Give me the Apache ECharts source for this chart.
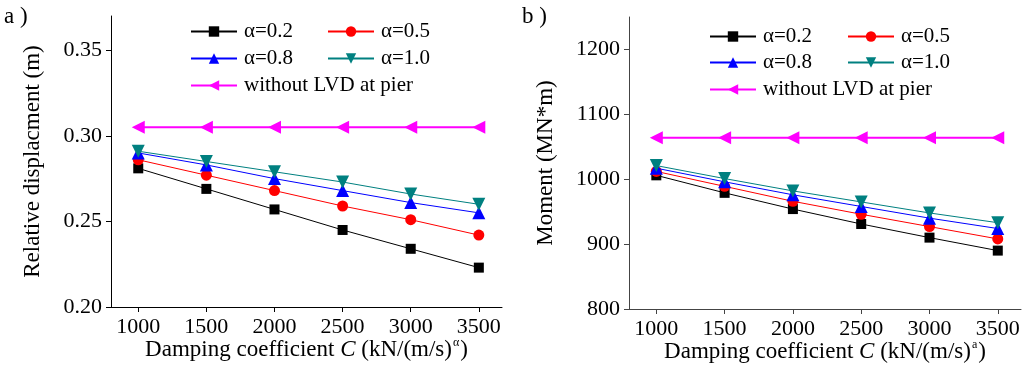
<!DOCTYPE html>
<html>
<head>
<meta charset="utf-8">
<script src="https://cdn.jsdelivr.net/npm/echarts@6/dist/echarts.min.js"></script>
<style>
html,body{margin:0;padding:0;background:#fff;}
#c{width:1029px;height:378px;}
</style>
</head>
<body>
<div id="c"></div>
<script>
// ---- data ----
const dampingC = [1000, 1500, 2000, 2500, 3000, 3500];
const seriesNames = ['α=0.2', 'α=0.5', 'α=0.8', 'α=1.0', 'without LVD at pier'];

// panel a) relative displacement (m)
const dispA02 = [0.281, 0.269, 0.257, 0.245, 0.234, 0.223];
const dispA05 = [0.286, 0.277, 0.268, 0.259, 0.251, 0.242];
const dispA08 = [0.290, 0.283, 0.275, 0.268, 0.261, 0.255];
const dispA10 = [0.291, 0.285, 0.279, 0.273, 0.266, 0.260];
const dispNoLVD = [0.305, 0.305, 0.305, 0.305, 0.305, 0.305];

// panel b) moment (MN*m)
const momA02 = [1006, 979, 954, 931, 910, 890];
const momA05 = [1012, 989, 966, 946, 927, 908];
const momA08 = [1017, 996, 976, 958, 940, 924];
const momA10 = [1021, 1001, 982, 965, 948, 933];
const momNoLVD = [1064, 1064, 1064, 1064, 1064, 1064];

const xTicks = [1000, 1500, 2000, 2500, 3000, 3500];
const yTicksA = [0.20, 0.25, 0.30, 0.35];
const yTicksB = [800, 900, 1000, 1100, 1200];

// ---- styles ----
const FONT = 'Liberation Serif';
const LBL = 22, TTL = 23, LEG = 21;
const colors = ['#000000', '#ff0000', '#0000ff', '#008080', '#ff00ff'];
const symbols = ['rect', 'circle', 'triangle', 'triangle', 'triangle'];
const symRot = [0, 0, 0, 180, 90];
const symSize = [10, 11, 13, 13, 13];
const lineW = [1, 1, 1, 1, 2];

function pairs(xs, ys) { return xs.map((x, i) => [x, ys[i]]); }

function makeSeries(dataArrs, gi) {
  return dataArrs.map((arr, k) => ({
    name: seriesNames[k],
    type: 'line',
    xAxisIndex: gi, yAxisIndex: gi,
    data: pairs(dampingC, arr),
    symbol: symbols[k],
    symbolSize: symSize[k],
    symbolRotate: symRot[k],
    itemStyle: { color: colors[k] },
    lineStyle: { color: colors[k], width: lineW[k] },
    z: 2 + k,
    animation: false
  }));
}

function makeLegends(x1, x2, rowY) {
  const pos = [[x1, rowY[0]], [x2, rowY[0]], [x1, rowY[1]], [x2, rowY[1]], [x1, rowY[2]]];
  return seriesNames.map((n, k) => ({
    data: [n],
    left: pos[k][0], top: pos[k][1] - 11,
    padding: 0,
    itemWidth: 46, itemHeight: 13,
    selectedMode: false,
    textStyle: { fontFamily: FONT, fontSize: LEG, color: '#000', padding: [0, 0, 0, 2] }
  }));
}

function xAxisCfg(gi, axisColor, supChar) {
  return {
    type: 'value', gridIndex: gi, min: 800, max: 3670,
    axisLine: { lineStyle: { color: axisColor, width: 1 } },
    axisTick: { show: true, inside: false, length: 5, customValues: xTicks, lineStyle: { color: axisColor } },
    axisLabel: { customValues: xTicks, formatter: v => String(v), fontFamily: FONT, fontSize: LBL, color: '#000', margin: 9 },
    splitLine: { show: false },
    name: '{t|Damping coefficient }{i|C}{t| (kN/(m/s)}{s|' + supChar + '}{t|)}',
    nameLocation: 'middle', nameGap: 30, nameMoveOverlap: false,
    nameTextStyle: {
      rich: {
        t: { fontFamily: FONT, fontSize: TTL, color: '#000' },
        i: { fontFamily: FONT, fontSize: TTL, fontStyle: 'italic', color: '#000' },
        s: { fontFamily: FONT, fontSize: 12, color: '#000', padding: [0, 1, 13, 1] }
      }
    }
  };
}

function yAxisCfg(gi, axisColor, min, max, interval, ticks, fmt, title) {
  return {
    type: 'value', gridIndex: gi, min: min, max: max, interval: interval,
    axisLine: { show: true, lineStyle: { color: axisColor, width: 1 } },
    axisTick: { show: true, inside: false, length: 5, customValues: ticks, lineStyle: { color: axisColor } },
    axisLabel: { customValues: ticks, formatter: fmt, fontFamily: FONT, fontSize: LBL, color: '#000', margin: 9 },
    splitLine: { show: false },
    name: title, nameLocation: 'middle', nameGap: 0,
    nameTextStyle: { fontFamily: FONT, fontSize: TTL, color: '#000' }
  };
}

const chart = echarts.init(document.getElementById('c'), null, { renderer: 'canvas' });
const yA = yAxisCfg(0, '#000', 0.20, 0.37, 0.05, yTicksA, v => v.toFixed(2), 'Relative displacment (m)');
yA.nameGap = 67;
const yB = yAxisCfg(1, '#444', 800, 1250, 100, yTicksB, v => String(v), 'Moment (MN*m)');
yB.nameGap = 72;

chart.setOption({
  animation: false,
  backgroundColor: '#fff',
  grid: [
    { left: 111, top: 16, width: 391, height: 291 },
    { left: 629, top: 17, width: 392, height: 292 }
  ],
  xAxis: [xAxisCfg(0, '#000', 'α'), xAxisCfg(1, '#444', 'a')],
  yAxis: [yA, yB],
  legend: makeLegends(190, 327, [32, 59, 86]).concat(makeLegends(709, 847, [37, 63, 90])),
  graphic: [
    { type: 'text', left: 4, top: 5, style: { text: 'a )', fontFamily: FONT, fontSize: 23, fill: '#000' } },
    { type: 'text', left: 522, top: 5, style: { text: 'b )', fontFamily: FONT, fontSize: 23, fill: '#000' } }
  ],
  series: makeSeries([dispA02, dispA05, dispA08, dispA10, dispNoLVD], 0)
    .concat(makeSeries([momA02, momA05, momA08, momA10, momNoLVD], 1))
});
</script>
</body>
</html>
